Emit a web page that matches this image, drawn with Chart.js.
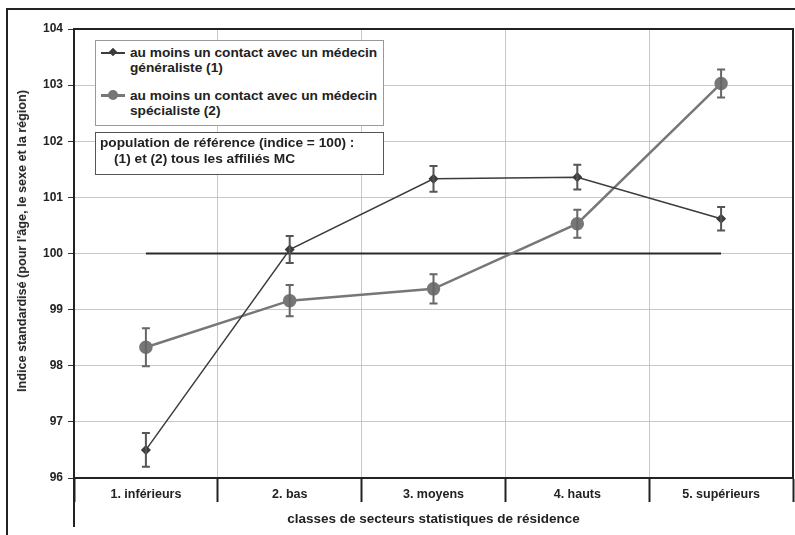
<!DOCTYPE html>
<html>
<head>
<meta charset="utf-8">
<script src="https://cdn.jsdelivr.net/npm/chart.js@4.4.1/dist/chart.umd.min.js"></script>
<style>
  body { margin: 0; background: #fff; }
  #wrap { position: relative; width: 795px; height: 535px; }
  canvas { display: block; }
  .box { position: absolute; background: #fff; font: bold 13.7px "Liberation Sans", Arial, sans-serif; color: #222; line-height: 15px; }
  .lg1 { left: 95px; top: 40px; width: 287px; height: 84px; border: 1px solid #999; }
  .lg2 { left: 95px; top: 132px; width: 287px; height: 41px; border: 1px solid #555; }
  .item { position: absolute; left: 34px; white-space: nowrap; }
  .mk { position: absolute; left: 5px; width: 24px; }
  .mk .ln { position: absolute; left: 0; right: 0; }
  #ytitle { position: absolute; left: 22px; top: 241px; transform: translate(-50%, -50%) rotate(-90deg);
            white-space: nowrap; font: bold 12.6px "Liberation Sans", Arial, sans-serif; color: #222; }
</style>
</head>
<body>
<div id="wrap">
  <canvas id="chart" width="795" height="535"></canvas>
  <div id="ytitle">Indice standardisé (pour l'âge, le sexe et la région)</div>
  <div class="box lg1">
    <div class="mk" style="top:11px"><div class="ln" style="top:0;height:2px;background:#3c3c3c"></div><div style="position:absolute;left:9px;top:-3px;width:6px;height:6px;background:#3c3c3c;transform:rotate(45deg)"></div></div>
    <div class="item" style="top:4px">au moins un contact avec un médecin<br>généraliste (1)</div>
    <div class="mk" style="top:54px"><div class="ln" style="top:-1px;height:3px;background:#777"></div><div style="position:absolute;left:7px;top:-5px;width:10px;height:10px;border-radius:50%;background:#777"></div></div>
    <div class="item" style="top:47px">au moins un contact avec un médecin<br>spécialiste (2)</div>
  </div>
  <div class="box lg2">
    <div style="position:absolute;left:4px;top:2px;white-space:nowrap">population de référence (indice = 100) :</div>
    <div style="position:absolute;left:18px;top:18px;white-space:nowrap">(1) et (2) tous les affiliés MC</div>
  </div>
</div>
<script>
const categories = ['1. inférieurs', '2. bas', '3. moyens', '4. hauts', '5. supérieurs']
const generaliste = [96.5, 100.07, 101.33, 101.36, 100.62]
const generalisteErr = [0.30, 0.24, 0.23, 0.22, 0.21]
const specialiste = [98.33, 99.16, 99.37, 100.53, 103.03]
const specialisteErr = [0.34, 0.28, 0.26, 0.25, 0.25]
const reference = [100, 100, 100, 100, 100]
const yTicks = [96, 97, 98, 99, 100, 101, 102, 103, 104]

const font = '"Liberation Sans", Arial, sans-serif'

// error bars drawn from the err arrays through the y scale
const errorBars = {
    id: 'errorBars',
    afterDatasetsDraw(chart) {
        const ctx = chart.ctx
        const y = chart.scales.y
        chart.data.datasets.forEach(function(ds, i) {
            if (!ds.errors) return
            const meta = chart.getDatasetMeta(i)
            ctx.save()
            ctx.strokeStyle = ds.errColor
            ctx.lineWidth = 2
            meta.data.forEach(function(pt, j) {
                const top = y.getPixelForValue(ds.data[j] + ds.errors[j])
                const bot = y.getPixelForValue(ds.data[j] - ds.errors[j])
                ctx.beginPath()
                ctx.moveTo(pt.x, top); ctx.lineTo(pt.x, bot)
                ctx.moveTo(pt.x - 4, top); ctx.lineTo(pt.x + 4, top)
                ctx.moveTo(pt.x - 4, bot); ctx.lineTo(pt.x + 4, bot)
                ctx.stroke()
            })
            ctx.restore()
        })
    }
}

// outer frame and plot borders
const frame = {
    id: 'frame',
    afterDraw(chart) {
        const ctx = chart.ctx
        const a = chart.chartArea
        ctx.save()
        ctx.strokeStyle = '#222'
        ctx.lineWidth = 2
        ctx.beginPath()
        ctx.moveTo(7, 535); ctx.lineTo(7, 9); ctx.lineTo(795, 9)
        ctx.moveTo(a.left, a.top); ctx.lineTo(a.right, a.top); ctx.lineTo(a.right, a.bottom)
        ctx.moveTo(a.left, a.bottom); ctx.lineTo(a.left, 527)
        ctx.stroke()
        ctx.restore()
    }
}

new Chart(document.getElementById('chart'), {
    type: 'line',
    data: {
        labels: categories,
        datasets: [{
            label: 'au moins un contact avec un médecin généraliste (1)',
            data: generaliste,
            errors: generalisteErr,
            errColor: '#555',
            borderColor: '#3c3c3c',
            backgroundColor: '#3c3c3c',
            borderWidth: 1.5,
            pointStyle: 'rectRot',
            pointRadius: 4,
            tension: 0
        }, {
            label: 'au moins un contact avec un médecin spécialiste (2)',
            data: specialiste,
            errors: specialisteErr,
            errColor: '#666',
            borderColor: '#777',
            backgroundColor: '#777',
            borderWidth: 2.5,
            pointStyle: 'circle',
            pointRadius: 5.5,
            tension: 0
        }, {
            label: 'population de référence',
            data: reference,
            borderColor: '#2a2a2a',
            borderWidth: 2,
            pointRadius: 0
        }]
    },
    options: {
        responsive: false,
        animation: false,
        devicePixelRatio: 1,
        layout: { autoPadding: false, padding: { top: 29, right: 2, left: 0, bottom: 0 } },
        plugins: {
            legend: { display: false },
            tooltip: { enabled: false }
        },
        scales: {
            x: {
                offset: true,
                afterFit: function(s) { s.height = 57; s.paddingLeft = 0; s.paddingRight = 0 },
                grid: { offset: true, color: '#c8c8c8', tickLength: 24, tickColor: '#222', tickWidth: 2 },
                border: { color: '#222', width: 2 },
                ticks: { color: '#222', font: { family: font, size: 12.5, weight: 'bold' }, padding: -15, maxRotation: 0 },
                title: {
                    display: true,
                    text: 'classes de secteurs statistiques de résidence',
                    color: '#222',
                    font: { family: font, size: 13.5, weight: 'bold' },
                    padding: { top: 0, bottom: 8 }
                }
            },
            y: {
                min: 96,
                max: 104,
                afterFit: function(s) { s.width = 74 },
                afterBuildTicks: function(s) { s.ticks = yTicks.map(v => ({ value: v })) },
                grid: { color: '#c8c8c8', tickLength: 6, tickColor: '#333' },
                border: { color: '#222', width: 2 },
                ticks: { color: '#222', font: { family: font, size: 12, weight: 'bold' }, padding: 5 }
            }
        }
    },
    plugins: [errorBars, frame]
})
</script>
</body>
</html>
